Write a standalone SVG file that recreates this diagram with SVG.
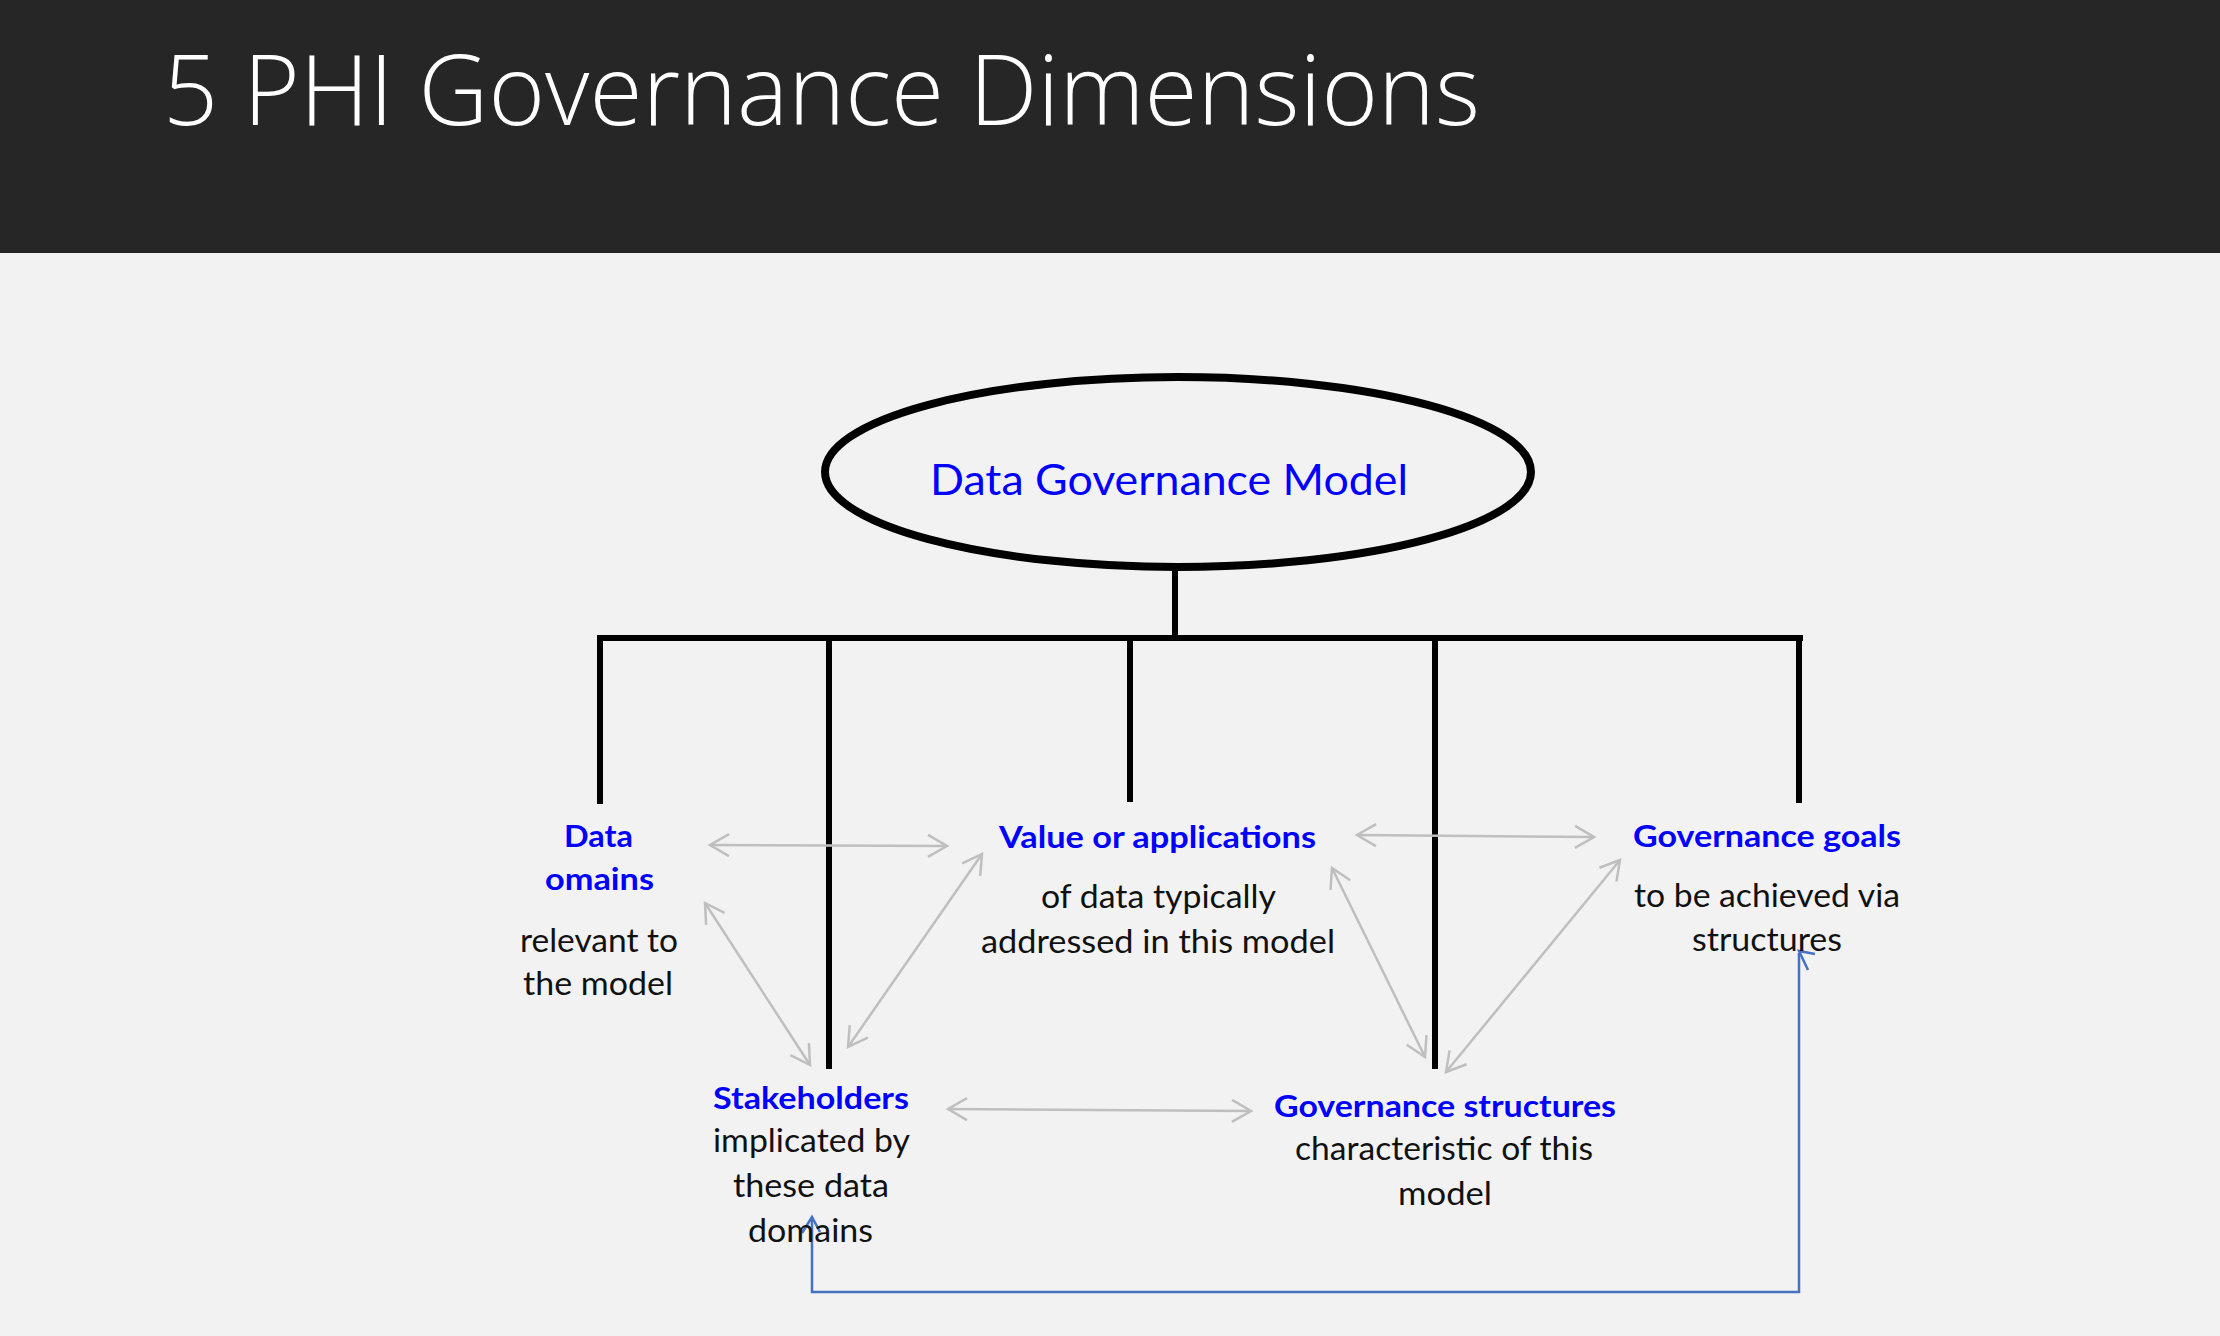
<svg xmlns="http://www.w3.org/2000/svg" width="2220" height="1336" viewBox="0 0 2220 1336">
<defs>
<style>
.t{font-family:Lato,"Noto Sans","Liberation Sans",sans-serif;font-size:32px;fill:#111}
.h{font-family:Lato,"Noto Sans","Liberation Sans",sans-serif;font-size:31px;font-weight:bold;fill:#0000ff}
.tree{stroke:#000;stroke-width:6;fill:none}
.ga{stroke:#bfbfbf;stroke-width:2.5;fill:none}
.bl{stroke:#4472c4;stroke-width:2.5;fill:none}
</style>
<marker id="arr" viewBox="-24 -14 28 28" refX="0" refY="0" markerWidth="28" markerHeight="28" markerUnits="userSpaceOnUse" orient="auto-start-reverse">
<path d="M-19,-11 L0,0 L-19,11" fill="none" stroke="#bfbfbf" stroke-width="2.5"/>
</marker>
</defs>
<rect x="0" y="0" width="2220" height="1336" fill="#f2f2f2"/>
<g id="header">
<rect x="0" y="0" width="2220" height="253" fill="#262626"/>
<text x="163" y="125" font-family="'Open Sans','Noto Sans',Lato,sans-serif" font-weight="300" font-size="98" fill="#ffffff" textLength="1317" lengthAdjust="spacingAndGlyphs">5 PHI Governance Dimensions</text>
</g>
<g id="connectors">
<path class="tree" d="M1175,571 V638 M597,638 H1803 M600,635 V804 M829,635 V1069 M1130,635 V802 M1435,635 V1069 M1799,635 V803"/>
<line class="ga" x1="710" y1="845" x2="947" y2="846" marker-start="url(#arr)" marker-end="url(#arr)"/>
<line class="ga" x1="1357" y1="835" x2="1594" y2="837" marker-start="url(#arr)" marker-end="url(#arr)"/>
<line class="ga" x1="705" y1="903" x2="810" y2="1065" marker-start="url(#arr)" marker-end="url(#arr)"/>
<line class="ga" x1="982" y1="854" x2="848" y2="1047" marker-start="url(#arr)" marker-end="url(#arr)"/>
<line class="ga" x1="1332" y1="868" x2="1425" y2="1057" marker-start="url(#arr)" marker-end="url(#arr)"/>
<line class="ga" x1="1620" y1="860" x2="1446" y2="1072" marker-start="url(#arr)" marker-end="url(#arr)"/>
<line class="ga" x1="948" y1="1109" x2="1251" y2="1111" marker-start="url(#arr)" marker-end="url(#arr)"/>
<path class="bl" d="M1799,953 V1292 H812 V1218"/>
<path class="bl" d="M802,1233 L812,1217 L820,1232"/>
<path class="bl" d="M1815,954 L1799,951 L1808,970"/>
</g>
<g id="node-model">
<ellipse cx="1178" cy="472" rx="353" ry="95" fill="none" stroke="#000" stroke-width="8"/>
<text x="930" y="495" font-family="Lato,'Noto Sans','Liberation Sans',sans-serif" font-size="43" fill="#0000ff" textLength="478" lengthAdjust="spacingAndGlyphs">Data Governance Model</text>
</g>
<g id="node-data-domains">
<text class="h" x="564" y="847" textLength="69" lengthAdjust="spacingAndGlyphs">Data</text>
<text class="h" x="545" y="890" textLength="109" lengthAdjust="spacingAndGlyphs">omains</text>
<text class="t" x="520" y="952" textLength="158" lengthAdjust="spacingAndGlyphs">relevant to</text>
<text class="t" x="523" y="995" textLength="150" lengthAdjust="spacingAndGlyphs">the model</text>
</g>
<g id="node-value">
<text class="h" x="999" y="848" textLength="317" lengthAdjust="spacingAndGlyphs">Value or applications</text>
<text class="t" x="1041" y="908" textLength="235" lengthAdjust="spacingAndGlyphs">of data typically</text>
<text class="t" x="981" y="953" textLength="354" lengthAdjust="spacingAndGlyphs">addressed in this model</text>
</g>
<g id="node-goals">
<text class="h" x="1633" y="847" textLength="268" lengthAdjust="spacingAndGlyphs">Governance goals</text>
<text class="t" x="1634" y="907" textLength="266" lengthAdjust="spacingAndGlyphs">to be achieved via</text>
<text class="t" x="1692" y="951" textLength="150" lengthAdjust="spacingAndGlyphs">structures</text>
</g>
<g id="node-stakeholders">
<text class="h" x="713" y="1109" textLength="196" lengthAdjust="spacingAndGlyphs">Stakeholders</text>
<text class="t" x="713" y="1152" textLength="197" lengthAdjust="spacingAndGlyphs">implicated by</text>
<text class="t" x="733" y="1197" textLength="156" lengthAdjust="spacingAndGlyphs">these data</text>
<text class="t" x="748" y="1242" textLength="125" lengthAdjust="spacingAndGlyphs">domains</text>
</g>
<g id="node-structures">
<text class="h" x="1274" y="1117" textLength="342" lengthAdjust="spacingAndGlyphs">Governance structures</text>
<text class="t" x="1295" y="1160" textLength="298" lengthAdjust="spacingAndGlyphs">characteristic of this</text>
<text class="t" x="1398" y="1205" textLength="94" lengthAdjust="spacingAndGlyphs">model</text>
</g>
</svg>
